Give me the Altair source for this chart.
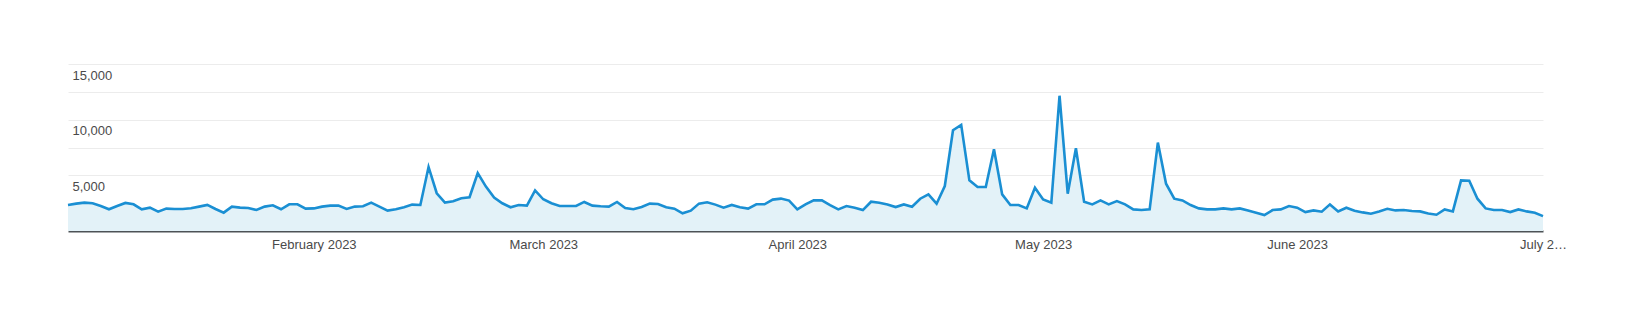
import altair as alt
import pandas as pd

# Daily dates, 2 Jan 2023 .. 1 Jul 2023
dates = pd.date_range("2023-01-02", "2023-07-01", freq="D")

values = [
    # Jan 2 - Feb 1
    2340, 2460, 2550, 2490, 2250, 1950, 2250, 2520, 2400, 1950,
    2100, 1740, 2010, 1980, 1980, 2040, 2190, 2340, 1980, 1650,
    2190, 2100, 2070, 1890, 2190, 2310, 1950, 2400, 2400, 2010, 2030,
    # Feb 2 - Mar 4
    2190, 2280, 2280, 1980, 2190, 2220, 2550, 2190, 1830, 1950,
    2130, 2370, 2340, 5750, 3390, 2550, 2670, 2940, 3030, 5200,
    3990, 3000, 2490, 2130, 2340, 2280, 3650, 2850, 2490, 2250, 2250,
    # Mar 5 - Apr 3
    2250, 2610, 2280, 2220, 2190, 2610, 2070, 1950, 2160, 2460,
    2430, 2130, 2010, 1590, 1830, 2460, 2580, 2370, 2100, 2340,
    2130, 2010, 2400, 2400, 2820, 2910, 2730, 1950, 2400, 2750,
    # Apr 4 - May 4
    2750, 2330, 1940, 2240, 2090, 1880, 2630, 2540, 2390, 2150,
    2390, 2180, 2900, 3290, 2450, 4040, 9050, 9530, 4550, 3950,
    3950, 7340, 3290, 2330, 2330, 2030, 3890, 2840, 2540, 12150, 3350,
    # May 5 - Jun 1
    7430, 2630, 2390, 2750, 2390, 2690, 2390, 1940, 1880, 1940,
    7940, 4250, 2900, 2750, 2330, 2030, 1940, 1940, 2030, 1940,
    2030, 1850, 1640, 1430, 1880, 1940, 2240, 2100,
    # Jun 2 - Jul 1
    1700, 1850, 1730, 2390, 1760, 2090, 1820, 1670, 1550, 1760,
    2000, 1850, 1880, 1790, 1760, 1580, 1460, 1940, 1760, 4550,
    4520, 2900, 2030, 1880, 1880, 1700, 1940, 1760, 1640, 1340,
]

y_grid = [5000, 7500, 10000, 12500, 15000]
month_ticks = [alt.DateTime(year=2023, month=m, date=1) for m in range(2, 8)]

df = pd.DataFrame({"date": dates, "value": values})

LINE = "#1a8fd3"
FILL = "#e3f2f8"
FONT = "Liberation Sans"

x = alt.X(
    "date:T",
    scale=alt.Scale(nice=False),
    axis=alt.Axis(
        title=None,
        values=month_ticks,
        grid=False,
        ticks=False,
        domain=True,
        domainColor="#4d5256",
        domainWidth=2,
        labelPadding=7,
        labelFont=FONT,
        labelFontSize=13,
        labelColor="#4a4a4a",
        labelFlush=False,
        labelExpr="month(datum.value) == 6 ? 'July 2\u2026' : timeFormat(datum.value, '%B %Y')",
        labelOverlap=False,
    ),
)
y = alt.Y(
    "value:Q",
    scale=alt.Scale(domain=[0, 15000], nice=False, zero=True),
    axis=alt.Axis(
        title=None,
        values=y_grid,
        grid=True,
        gridColor="#ececec",
        gridWidth=1,
        ticks=False,
        domain=False,
        labelAlign="left",
        labelBaseline="top",
        labelPadding=-4,
        labelOffset=5,
        labelFont=FONT,
        labelFontSize=13,
        labelColor="#4a4a4a",
        labelFlush=False,
        labelExpr="datum.value % 5000 == 0 ? format(datum.value, ',') : ''",
    ),
)

base = alt.Chart(df)
area = base.mark_area(color=FILL, opacity=1).encode(x=x, y=y)
line = base.mark_line(color=LINE, strokeWidth=2.6, strokeJoin="miter").encode(x="date:T", y="value:Q")

chart = (
    alt.layer(area, line)
    .properties(
        width=1475,
        height=167,
        autosize=alt.AutoSizeParams(type="none"),
        padding={"left": 68, "top": 64, "right": 86, "bottom": 89},
        background="white",
    )
    .configure_view(strokeWidth=0)
)

chart.save("out.html", embed_options={"renderer": "svg", "actions": False})
